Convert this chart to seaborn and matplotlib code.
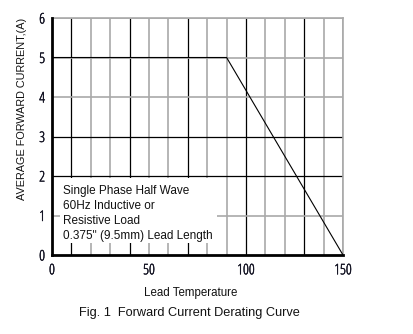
import matplotlib
matplotlib.use("Agg")
import matplotlib.pyplot as plt
import matplotlib.patheffects as pe
from matplotlib.patches import Rectangle
from matplotlib.font_manager import FontProperties, fontManager
import seaborn as sns
import pandas as pd

# Derating curve: rated current up to the knee, then linear to zero
lead_temp = [0, 90, 150]
avg_current = [5, 5, 0]

x_ticks = [0, 50, 100, 150]
y_ticks = [0, 1, 2, 3, 4, 5, 6]
x_grid = [10, 20, 30, 40, 50, 60, 70, 80, 90, 100, 110, 120, 130, 140, 150]
y_grid = [1, 2, 3, 4, 5, 6]
x_grid_dark = [10, 40, 70, 100, 130]
y_grid_dark = [2, 3]

note_lines = [
    "Single Phase Half Wave",
    "60Hz Inductive or",
    "Resistive Load",
    '0.375" (9.5mm) Lead Length',
]

sns.set_theme(style="white")
plt.rcParams["font.family"] = ["Liberation Sans", "DejaVu Sans"]

GRAY = "#a9a9a9"
TICK_COLOR = "#101020"


def _wt(w):
    named = {"light": 300, "normal": 400, "regular": 400, "medium": 500,
             "semibold": 600, "bold": 700}
    return w if isinstance(w, int) else named.get(str(w), 400)


# narrow digits for the tick labels: a condensed upright face
cands = [f for f in fontManager.ttflist
         if f.name == "Open Sans" and f.stretch == "condensed" and f.style == "normal"]
if cands:
    best = min(cands, key=lambda f: abs(_wt(f.weight) - 550))
    tick_font = FontProperties(fname=best.fname, size=10.5)
else:
    tick_font = FontProperties(family="DejaVu Sans", stretch="condensed", size=9.5)

fig = plt.figure(figsize=(4.13, 3.34), dpi=100)
ax = fig.add_axes([52 / 413, 79 / 334, 291 / 413, 237 / 334])

df = pd.DataFrame({"temp": lead_temp, "current": avg_current})

# grid lines: a few dark, the rest light gray
for gx in x_grid:
    dark = gx in x_grid_dark
    ax.axvline(gx, color="black" if dark else GRAY, lw=0.9 if dark else 1.2, zorder=1)
for gy in y_grid:
    dark = gy in y_grid_dark
    ax.axhline(gy, color="black" if dark else GRAY, lw=0.9 if dark else 1.2, zorder=1)

# white panel behind the operating-condition note
ax.add_patch(Rectangle((4.3, 0.3), 85 - 4.3, 1.95 - 0.3, facecolor="white",
                       edgecolor="none", zorder=2))
ax.text(5.7, 1.76, "\n".join(note_lines), fontsize=8.5, color="#111111",
        ha="left", va="top", linespacing=1.3, zorder=3)

sns.lineplot(data=df, x="temp", y="current", ax=ax, color="black", lw=0.8,
             zorder=4)

ax.set_xlim(0, 150)
ax.set_ylim(0, 6)
ax.set_xticks(x_ticks)
ax.set_yticks(y_ticks)
ax.set_xticklabels([str(t) for t in x_ticks], fontproperties=tick_font, color=TICK_COLOR)
ax.set_yticklabels([str(t) for t in y_ticks], fontproperties=tick_font, color=TICK_COLOR)
# give the light condensed digits a little more body
for lbl in ax.get_xticklabels() + ax.get_yticklabels():
    lbl.set_path_effects([pe.withStroke(linewidth=0.3, foreground=TICK_COLOR)])
ax.tick_params(axis="both", length=0)
ax.tick_params(axis="x", pad=6)
ax.tick_params(axis="y", pad=5)
ax.set_xlabel("")
ax.set_ylabel("")

for side in ("left", "bottom"):
    ax.spines[side].set_color("black")
    ax.spines[side].set_linewidth(2.0)
    ax.spines[side].set_zorder(5)
for side in ("top", "right"):
    ax.spines[side].set_color(GRAY)
    ax.spines[side].set_linewidth(1.2)

fig.text(22 / 413, (334 - 109) / 334, "AVERAGE FORWARD CURRENT,(A)", rotation=90,
         ha="center", va="center", fontsize=7.85, color="#111111")
fig.text(190.5 / 413, (334 - 293) / 334, "Lead Temperature", ha="center",
         va="center", fontsize=8.3, color="#111111")
fig.text(189 / 413, (334 - 313) / 334, "Fig. 1  Forward Current Derating Curve",
         ha="center", va="center", fontsize=9.2, color="#111111")

fig.savefig("out.png", dpi=100, facecolor="white")
